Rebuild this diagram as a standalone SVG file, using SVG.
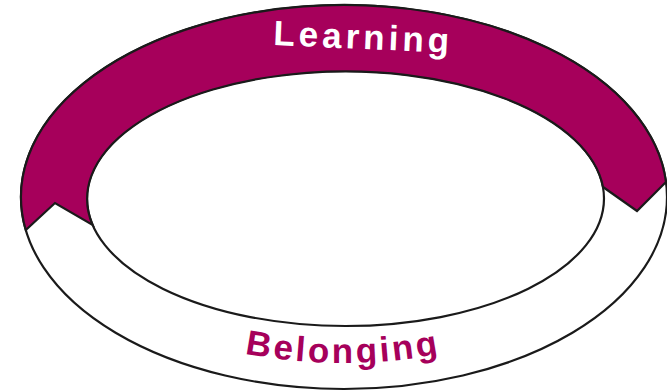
<svg xmlns="http://www.w3.org/2000/svg" width="667" height="391" viewBox="0 0 667 391">
  <defs>
    <style>
      .ring { fill: #ffffff; stroke: #1a1a1a; stroke-width: 2.2; }
      .band { fill: #A6005B; stroke: #1a1a1a; stroke-width: 2.2; stroke-linejoin: miter; }
      .label { font-family: "Liberation Sans", Arial, sans-serif; font-weight: bold; }
    </style>
    <path id="belongArc" d="M 48,199 A 295,164 0 0 0 638,199"/>
  </defs>
  <rect width="667" height="391" fill="#ffffff"/>
  <g id="ring-outer">
    <ellipse class="ring" cx="344" cy="197" rx="323" ry="192"/>
  </g>
  <g id="ring-inner">
    <ellipse class="ring" cx="345.5" cy="198.5" rx="258.5" ry="127.5"/>
  </g>
  <g id="learning">
    <path class="band" d="M 25.8,230 A 323,192 0 1 1 666,182 L 637,211 L 603,187 A 258.5,127.5 0 1 0 92.6,225 L 55,203 Z"/>
    <text class="label" x="273" y="45" font-size="35" fill="#ffffff" letter-spacing="4" transform="rotate(2.5 273 45)">Learning</text>
  </g>
  <g id="belonging">
    <text class="label" font-size="35" fill="#A6005B" letter-spacing="3">
      <textPath href="#belongArc" startOffset="50%" text-anchor="middle">Belonging</textPath>
    </text>
  </g>
</svg>
